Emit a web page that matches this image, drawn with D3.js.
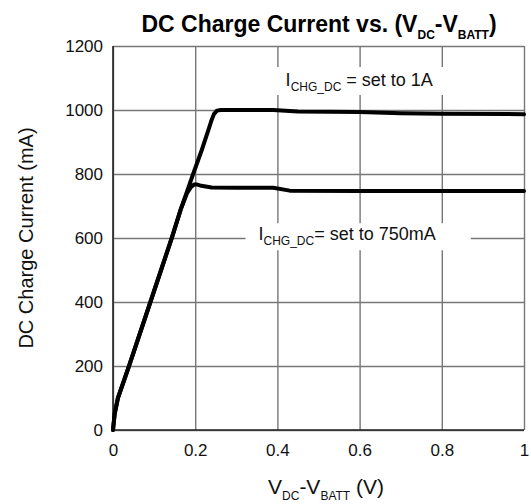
<!DOCTYPE html>
<html>
<head>
<meta charset="utf-8">
<script src="https://cdn.jsdelivr.net/npm/d3@7"></script>
<style>
  body { margin: 0; background: #fff; }
  svg { display: block; font-family: "Liberation Sans", Arial, Helvetica, sans-serif; }
</style>
</head>
<body>
<svg id="chart" width="531" height="504"></svg>
<script>
/* DC charge current vs (VDC - VBATT), two charge-current settings. */

const xTicks = [0, 0.2, 0.4, 0.6, 0.8, 1];
const yTicks = [0, 200, 400, 600, 800, 1000, 1200];

// I_CHG_DC set to 1A : V (volts) / I (mA)
const vdc1A = [0, 0.004, 0.012, 0.039, 0.065, 0.091, 0.117, 0.143, 0.165, 0.18, 0.195,
  0.216, 0.232, 0.24, 0.246, 0.253, 0.262, 0.3, 0.39, 0.45, 0.6, 0.7, 0.8, 1.0];
const i1A = [0, 50, 100, 200, 300, 400, 500, 600, 690, 745, 800,
  875, 937, 969, 988, 998, 1000, 1000, 1000, 995, 994, 990, 988, 987];

// I_CHG_DC set to 750mA
const vdc750 = [0, 0.004, 0.012, 0.039, 0.065, 0.091, 0.117, 0.143, 0.165, 0.18, 0.19,
  0.197, 0.205, 0.215, 0.24, 0.3, 0.39, 0.43, 0.6, 0.8, 1.0];
const i750 = [0, 50, 100, 200, 300, 400, 500, 600, 690, 740, 760,
  767, 767, 763, 758, 757, 757, 748, 747, 747, 747];

const labels = [
  { v: 0.42, i: 1075, main: "I", sub: "CHG_DC", rest: " = set to 1A", pad: [7, 14, 1, 9] },
  { v: 0.354, i: 593, main: "I", sub: "CHG_DC", rest: "= set to 750mA", pad: [5, 35, 2, 13] }
];

let margin = { top: 46, right: 7, bottom: 74, left: 113 },
  W = 531, H = 504,
  width = W - margin.left - margin.right,
  height = H - margin.top - margin.bottom;

let svg = d3.select("#chart");

let x = d3.scaleLinear().domain([0, 1]).range([0, width]),
  y = d3.scaleLinear().domain([0, 1200]).range([height, 0]);

let g = svg.append("g")
  .attr("transform", "translate(" + margin.left + "," + margin.top + ")");

// grid lines
g.append("g")
  .attr("class", "grid-x")
  .attr("transform", "translate(0," + height + ")")
  .call(d3.axisBottom(x).tickValues(xTicks).tickSize(-height).tickFormat(""))
  .call(s => s.select(".domain").remove())
  .selectAll("line").attr("stroke", "#777").attr("stroke-width", 1.4);
g.append("g")
  .attr("class", "grid-y")
  .call(d3.axisLeft(y).tickValues(yTicks).tickSize(-width).tickFormat(""))
  .call(s => s.select(".domain").remove())
  .selectAll("line").attr("stroke", "#777").attr("stroke-width", 1.4);

// frame : left / bottom darker
g.append("line").attr("x1", 0).attr("x2", 0).attr("y1", 0).attr("y2", height)
  .attr("stroke", "#222").attr("stroke-width", 1.6);
g.append("line").attr("x1", 0).attr("x2", width).attr("y1", height).attr("y2", height)
  .attr("stroke", "#222").attr("stroke-width", 1.6);

// annotation boxes + text; the white box hides the grid behind the text
labels.forEach(function(l) {
  let ga = g.append("g").attr("class", "annot"),
    box = ga.append("rect").attr("fill", "#fff");
  let t = ga.append("text")
    .attr("x", x(l.v)).attr("y", y(l.i))
    .attr("font-size", 18).attr("fill", "#111")
    .style("white-space", "pre");
  t.append("tspan").text(l.main);
  t.append("tspan").attr("font-size", 12).attr("dy", 5).text(l.sub);
  t.append("tspan").attr("dy", -5).text(l.rest);
  let bb = t.node().getBBox(),
    p = l.pad;
  box
    .attr("x", bb.x - p[3]).attr("y", bb.y - p[0] + 4)
    .attr("width", bb.width + p[1] + p[3])
    .attr("height", bb.height + p[0] + p[2] - 4);
});

// curves
let line = d3.line()
  .x(d => x(d[0]))
  .y(d => y(d[1]))
  .curve(d3.curveLinear);

[[vdc1A, i1A], [vdc750, i750]].forEach(function(s) {
  g.append("path")
    .datum(d3.zip(s[0], s[1]))
    .attr("fill", "none")
    .attr("stroke", "#000")
    .attr("stroke-width", 4)
    .attr("stroke-linejoin", "round")
    .attr("stroke-linecap", "round")
    .attr("d", line);
});

// tick labels
g.append("g")
  .attr("transform", "translate(0," + height + ")")
  .call(d3.axisBottom(x).tickValues(xTicks).tickSize(0).tickPadding(14).tickFormat(d => d))
  .call(s => s.select(".domain").remove())
  .selectAll("text")
  .attr("font-size", 17).attr("fill", "#111");
g.append("g")
  .call(d3.axisLeft(y).tickValues(yTicks).tickSize(0).tickPadding(10).tickFormat(d => d))
  .call(s => s.select(".domain").remove())
  .selectAll("text")
  .attr("font-size", 17).attr("fill", "#111");
svg.selectAll("g[font-family]").attr("font-family", null);

// title
let title = svg.append("text")
  .attr("x", 319).attr("y", 32)
  .attr("text-anchor", "middle")
  .attr("font-size", 23).attr("font-weight", "bold").attr("fill", "#000");
title.append("tspan").text("DC Charge Current vs. (V");
title.append("tspan").attr("font-size", 12).attr("dy", 7).text("DC");
title.append("tspan").attr("dy", -7).text("-V");
title.append("tspan").attr("font-size", 12).attr("dy", 7).text("BATT");
title.append("tspan").attr("dy", -7).text(")");

// x axis title
let xt = svg.append("text")
  .attr("x", 326).attr("y", 494)
  .attr("text-anchor", "middle")
  .attr("font-size", 21).attr("fill", "#111")
  .style("white-space", "pre");
xt.append("tspan").text("V");
xt.append("tspan").attr("font-size", 12).attr("dy", 6).text("DC");
xt.append("tspan").attr("dy", -6).text("-V");
xt.append("tspan").attr("font-size", 12).attr("dy", 6).text("BATT");
xt.append("tspan").attr("dy", -6).text(" (V)");

// y axis title
svg.append("text")
  .attr("transform", "translate(33," + (margin.top + height / 2) + ") rotate(-90)")
  .attr("text-anchor", "middle")
  .attr("font-size", 20).attr("fill", "#111")
  .text("DC Charge Current (mA)");
</script>
</body>
</html>
